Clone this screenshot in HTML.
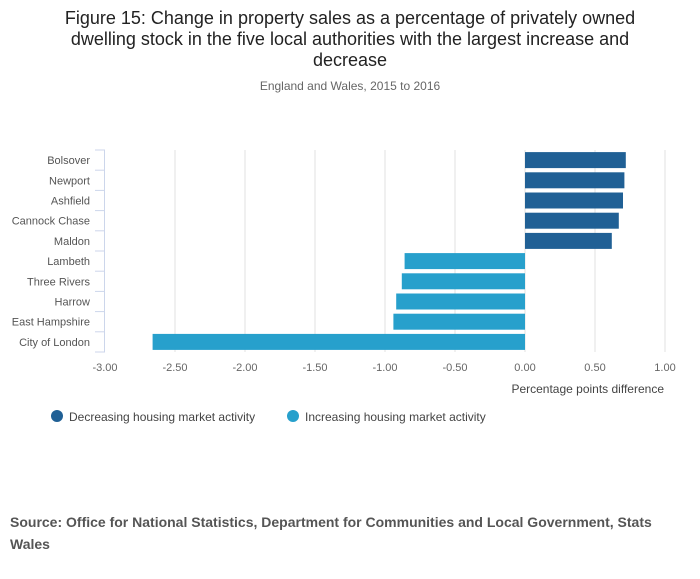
<!DOCTYPE html>
<html><head><meta charset="utf-8"><style>
body{margin:0;background:#fff;width:700px;height:574px;overflow:hidden;font-family:"Liberation Sans",sans-serif}
</style></head><body>
<svg width="700" height="574" xmlns="http://www.w3.org/2000/svg">
<text x="350" y="24" text-anchor="middle" font-size="18" fill="#222">Figure 15: Change in property sales as a percentage of privately owned</text>
<text x="350" y="45" text-anchor="middle" font-size="18" fill="#222">dwelling stock in the five local authorities with the largest increase and</text>
<text x="350" y="66" text-anchor="middle" font-size="18" fill="#222">decrease</text>
<text x="350" y="90" text-anchor="middle" font-size="12" fill="#666">England and Wales, 2015 to 2016</text>
<g id="plot"></g>
<text x="664" y="393" text-anchor="end" font-size="12" fill="#444">Percentage points difference</text>
<circle cx="57" cy="416" r="6" fill="#206095"/>
<text x="69" y="421" font-size="12" fill="#444">Decreasing housing market activity</text>
<circle cx="293" cy="416" r="6" fill="#27a0cc"/>
<text x="305" y="421" font-size="12" fill="#444">Increasing housing market activity</text>
<text x="10" y="527" font-size="14" font-weight="bold" fill="#555">Source: Office for National Statistics, Department for Communities and Local Government, Stats</text>
<text x="10" y="549" font-size="14" font-weight="bold" fill="#555">Wales</text>
</svg>
<script>
const categories=["Bolsover","Newport","Ashfield","Cannock Chase","Maldon","Lambeth","Three Rivers","Harrow","East Hampshire","City of London"];
const values=[0.72,0.71,0.70,0.67,0.62,-0.86,-0.88,-0.92,-0.94,-2.66];
const groups=["dec","dec","dec","dec","dec","inc","inc","inc","inc","inc"];
const ticks=[-3,-2.5,-2,-1.5,-1,-0.5,0,0.5,1];
const NS="http://www.w3.org/2000/svg";
const g=document.getElementById('plot');
const x0=105,x1=665,dMin=-3,dMax=1,plotTop=150,plotBot=352;
const xs=v=>x0+(v-dMin)/(dMax-dMin)*(x1-x0);
const band=(plotBot-plotTop)/categories.length;
const yc=i=>plotTop+band*(i+0.5);
function mk(t,a){const e=document.createElementNS(NS,t);for(const k in a)e.setAttribute(k,a[k]);g.appendChild(e);return e;}
ticks.forEach((t,i)=>{
  if(i>0){const l=mk('line',{x1:xs(t),x2:xs(t),y1:plotTop,y2:plotBot,stroke:'#e0e0e0','stroke-width':1});
  
  }
  const tx=mk('text',{x:xs(t),y:371,'text-anchor':'middle','font-size':11,fill:'#666'});
  tx.textContent=t.toFixed(2);
  
  
});
const ax=mk('line',{x1:104.5,x2:104.5,y1:plotTop,y2:plotBot,stroke:'#ccd6eb','stroke-width':1});


for(let i=0;i<=categories.length;i++){
  const tk=mk('line',{x1:95,x2:105,y1:plotTop+band*i,y2:plotTop+band*i,stroke:'#ccd6eb','stroke-width':1});
  
  
}
categories.forEach((c,i)=>{
  const tx=mk('text',{x:90,y:yc(i)+4,'text-anchor':'end','font-size':11,fill:'#555'});
  tx.textContent=c;
  
  
  const v=values[i];const a=xs(0),b=xs(v);
  const r=mk('rect',{x:Math.min(a,b),y:yc(i)-8,width:Math.abs(b-a),height:16,fill:groups[i]=='dec'?'#206095':'#27a0cc'});
  
  
});
</script>
</body></html>
